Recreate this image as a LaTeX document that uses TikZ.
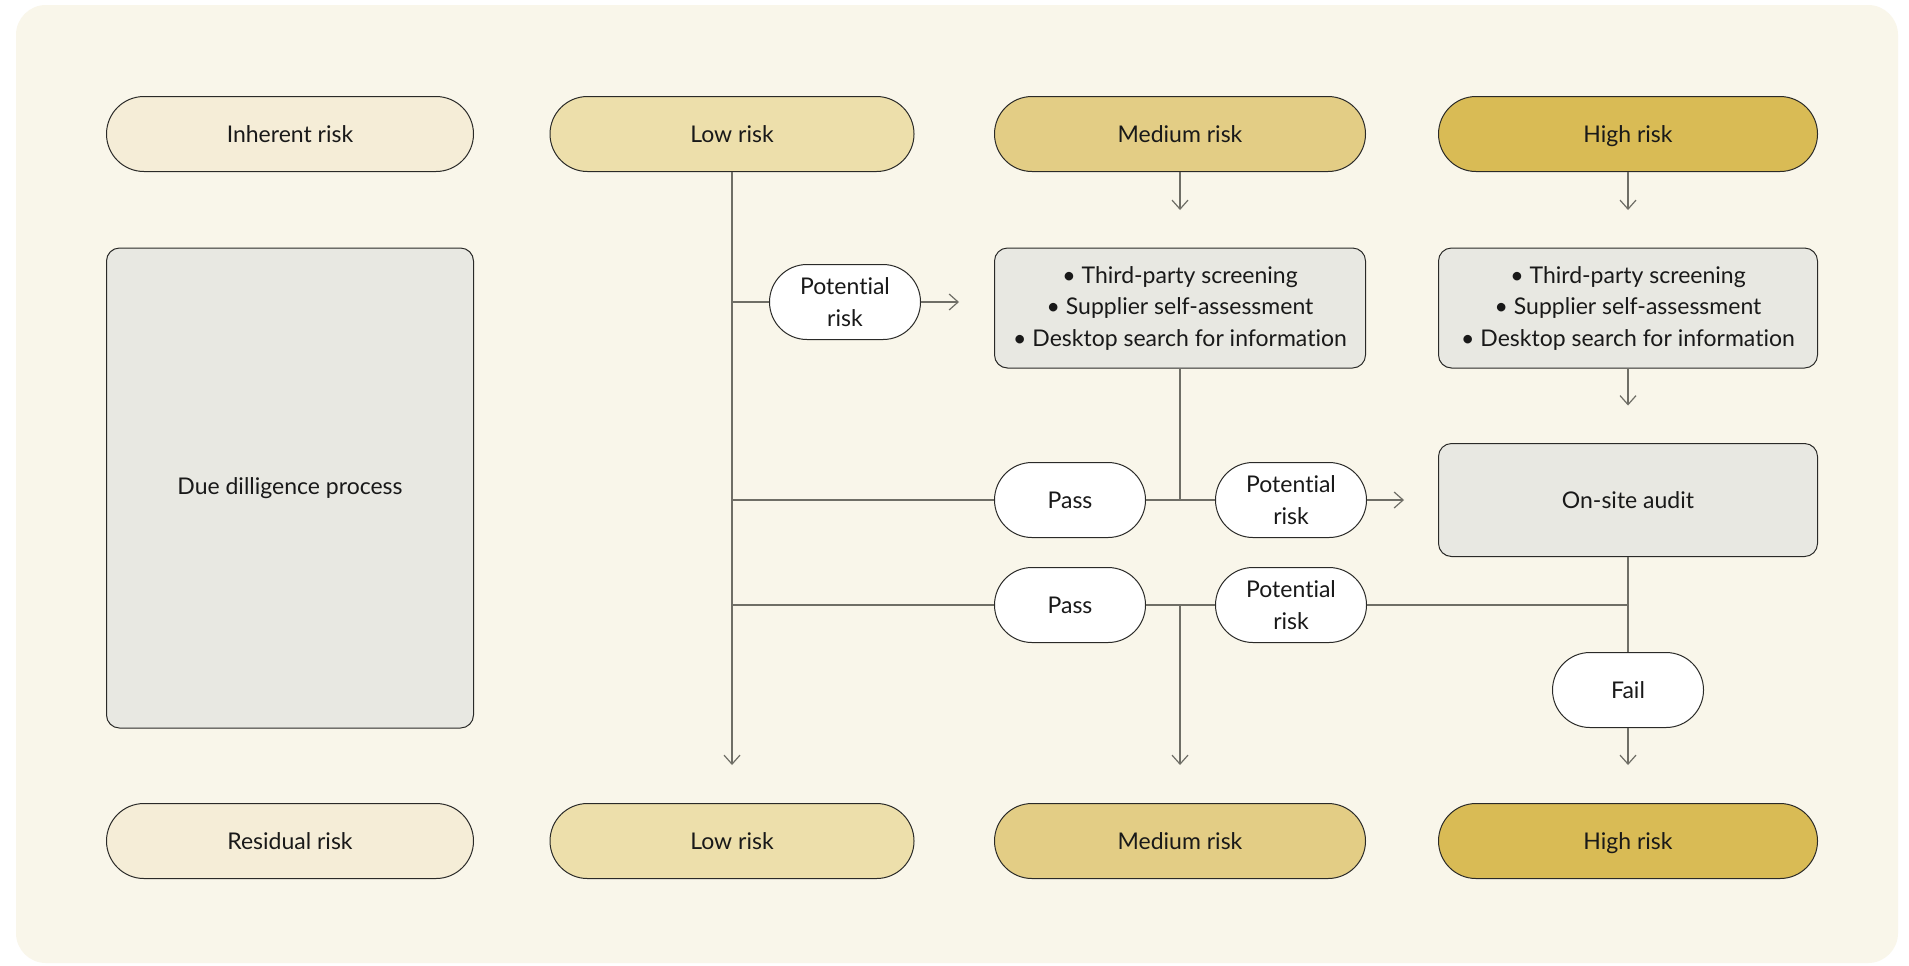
\documentclass[tikz,border=0pt]{standalone}
\usepackage{fontspec}
\setmainfont{Lato}[Ligatures={NoCommon}]
\usepackage{tikz}
\usetikzlibrary{positioning,arrows.meta,calc,shapes.misc}

\definecolor{panel}{HTML}{F9F6EA}
\definecolor{inhfill}{HTML}{F5EDD7}
\definecolor{lowfill}{HTML}{EDDFAB}
\definecolor{medfill}{HTML}{E3CD85}
\definecolor{highfill}{HTML}{D9BB55}
\definecolor{boxfill}{HTML}{E8E8E2}
\definecolor{edge}{HTML}{2A2A28}
\definecolor{linkgray}{HTML}{6F6E66}

\tikzset{
  txt/.style={font=\fontsize{11.5}{15.75}\selectfont, text=black!90},
  pill/.style={txt, rounded rectangle, draw=edge, line width=0.5pt,
    minimum width=185pt, minimum height=37.5pt, inner sep=0pt,
    text height=10pt, text depth=1.5pt},
  tag/.style={txt, rounded rectangle, draw=edge, line width=0.5pt, fill=white,
    minimum width=75.5pt, minimum height=37.5pt, inner sep=0pt, align=center},
  stepbox/.style={txt, rectangle, rounded corners=6.5pt, draw=edge, line width=0.5pt,
    fill=boxfill, align=center},
  link/.style={draw=linkgray, line width=0.7pt},
  arr/.style={-{Straight Barb[length=4.5pt,width=8pt,line width=0.6pt]}}
}

\begin{document}
\begin{tikzpicture}[x=0.5pt,y=-0.5pt]
  \useasboundingbox (0,0) rectangle (1909,965);
  \fill[white] (0,0) rectangle (1909,965);
  \fill[panel, rounded corners=15pt] (16,5) rectangle (1898,963);

  % top row
  \node[pill, fill=inhfill, minimum width=183.5pt]  (inh)   at (290,134)  {Inherent risk};
  \node[pill, fill=lowfill, minimum width=182pt]    (lowT)  at (732,134)  {Low risk};
  \node[pill, fill=medfill, minimum width=185.5pt]  (medT)  at (1180,134) {Medium risk};
  \node[pill, fill=highfill, minimum width=189.5pt] (highT) at (1628,134) {High risk};

  % bottom row
  \node[pill, fill=inhfill, minimum width=183.5pt]  (res)   at (290,841)  {Residual risk};
  \node[pill, fill=lowfill, minimum width=182pt]    (lowB)  at (732,841)  {Low risk};
  \node[pill, fill=medfill, minimum width=185.5pt]  (medB)  at (1180,841) {Medium risk};
  \node[pill, fill=highfill, minimum width=189.5pt] (highB) at (1628,841) {High risk};

  % process boxes
  \node[stepbox, minimum width=183.5pt, minimum height=240pt] (dd) at (290,488) {Due dilligence process};
  \node[stepbox, minimum width=185.5pt, minimum height=60pt] (medScr) at (1180,308)
    {• Third-party screening\\ • Supplier self-assessment\\ • Desktop search for information};
  \node[stepbox, minimum width=189.5pt, minimum height=60pt] (highScr) at (1628,308)
    {• Third-party screening\\ • Supplier self-assessment\\ • Desktop search for information};
  \node[stepbox, minimum width=189.5pt, minimum height=56.5pt] (audit) at (1628,500) {On-site audit};

  % decisions
  \node[tag] (pot1)  at (845,302)  {Potential\\ risk};
  \node[tag] (pass1) at (1070,500) {Pass};
  \node[tag] (pot2)  at (1291,500) {Potential\\ risk};
  \node[tag] (pass2) at (1070,605) {Pass};
  \node[tag] (pot3)  at (1291,605) {Potential\\ risk};
  \node[tag] (fail)  at (1628,690) {Fail};

  % low risk path
  \draw[link,arr] (lowT.south) -- ([yshift=19pt]lowB.north);
  \draw[link] (lowT.south |- pot1.west) -- (pot1.west);
  \draw[link,arr] (pot1.east) -- ++(19pt,0);
  \draw[link] (lowT.south |- pass1.west) -- (pass1.west);
  \draw[link] (lowT.south |- pass2.west) -- (pass2.west);

  % medium risk path
  \draw[link,arr] (medT.south) -- ++(0,-19pt);
  \draw[link] (medScr.south) -- (medScr.south |- pass1.east);
  \draw[link] (pass1.east) -- (pot2.west);
  \draw[link,arr] (pot2.east) -- ++(18.5pt,0);
  \draw[link] (pass2.east) -- (pot3.west);
  \draw[link,arr] (medScr.south |- pass2.east) -- ([yshift=19pt]medB.north);

  % high risk path
  \draw[link,arr] (highT.south) -- ++(0,-19pt);
  \draw[link,arr] (highScr.south) -- ++(0,-18.5pt);
  \draw[link] (pot3.east) -- (audit.south |- pot3.east);
  \draw[link] (audit.south) -- (fail.north);
  \draw[link,arr] (fail.south) -- ([yshift=19pt]highB.north);
\end{tikzpicture}
\end{document}
